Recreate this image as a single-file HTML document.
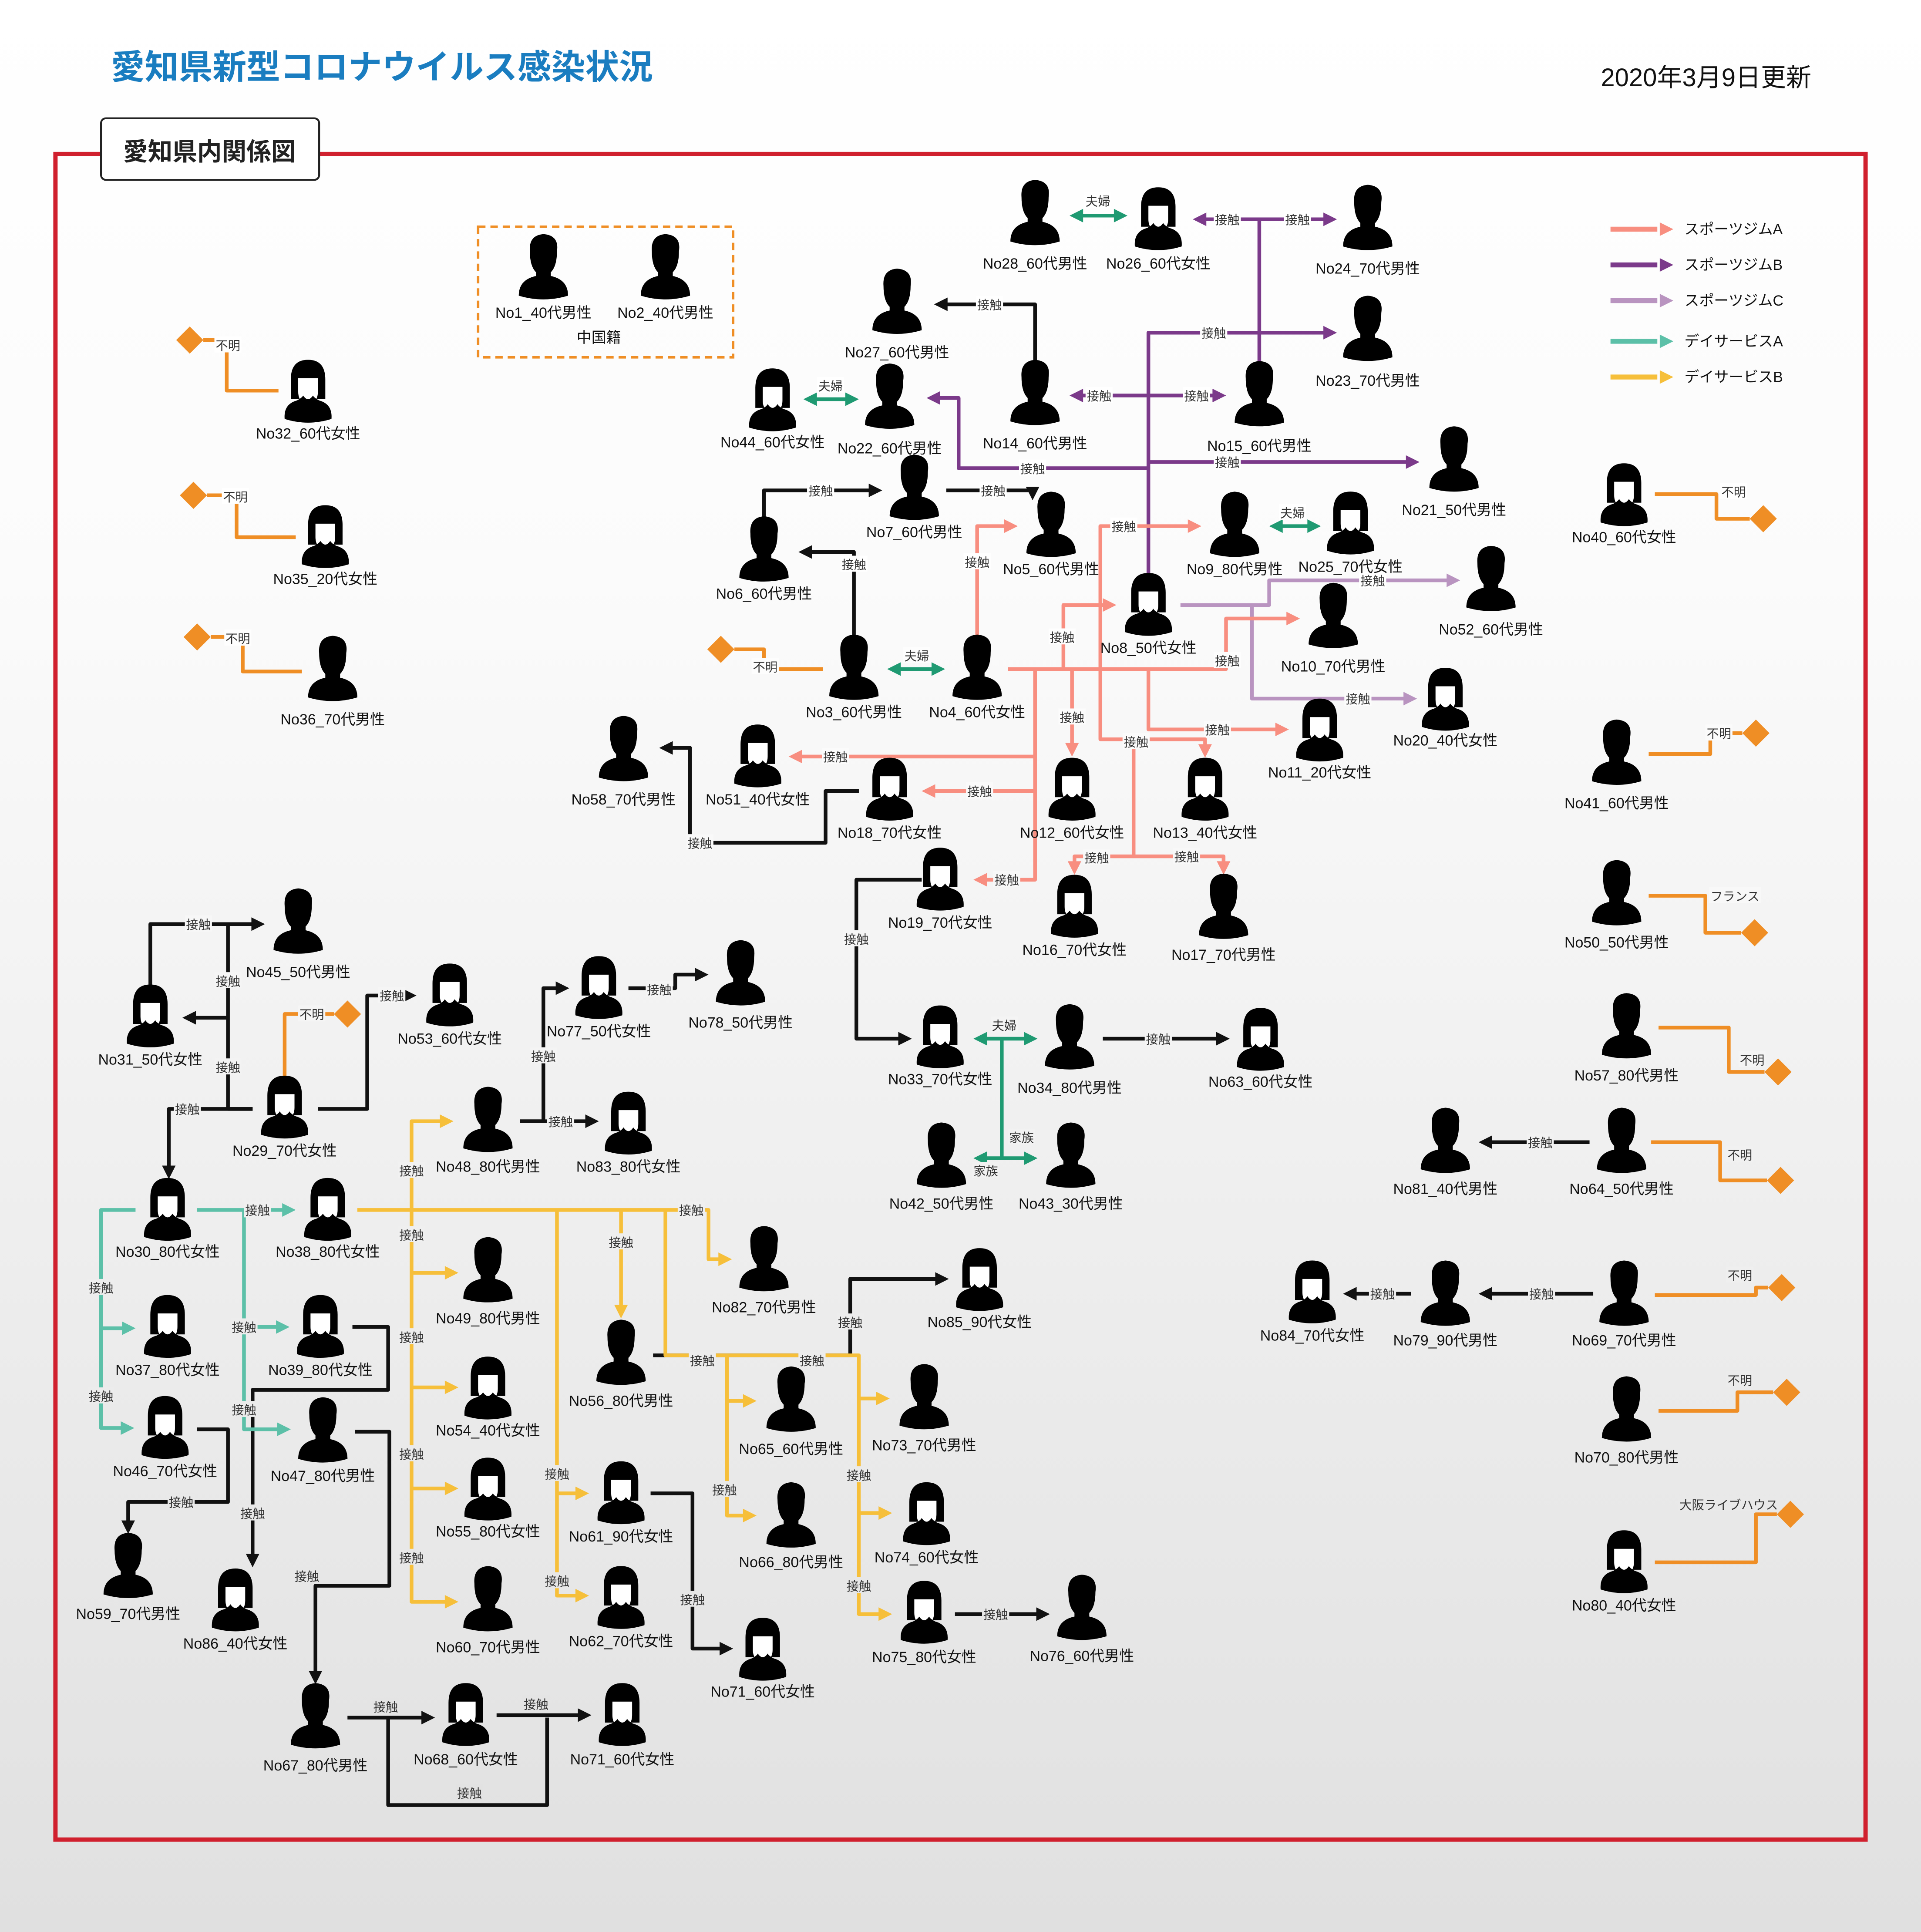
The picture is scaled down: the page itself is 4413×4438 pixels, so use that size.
<!DOCTYPE html>
<html><head><meta charset="utf-8"><style>
html,body{margin:0;padding:0;}
svg{display:block;}
text{font-family:"Liberation Sans","Noto Sans CJK JP",sans-serif;}
</style></head><body>
<svg id="chart" width="4413" height="4438" viewBox="0 0 1559 1568" preserveAspectRatio="none" xmlns="http://www.w3.org/2000/svg">
<defs>
<linearGradient id="bg" x1="0" y1="0" x2="0" y2="1"><stop offset="0" stop-color="#ffffff"/><stop offset="0.3" stop-color="#fbfbfb"/><stop offset="1" stop-color="#e0e0e0"/></linearGradient>
</defs>
<rect x="0" y="0" width="1559" height="1568" fill="url(#bg)"/>
<text x="90" y="64" font-size="27.5" font-weight="bold" fill="#1a7dc0">愛知県新型コロナウイルス感染状況</text>
<text x="1470" y="70" font-size="20.5" text-anchor="end" fill="#111">2020年3月9日更新</text>
<rect x="45" y="125" width="1469" height="1368" fill="none" stroke="#d0202e" stroke-width="3.5"/>
<rect x="82" y="96" width="177" height="50" rx="4" fill="#fff" stroke="#222" stroke-width="1.5"/>
<text x="170" y="130" font-size="20" font-weight="bold" text-anchor="middle" fill="#222">愛知県内関係図</text>
<rect x="388" y="184" width="207" height="106" fill="none" stroke="#ef8e25" stroke-width="2" stroke-dasharray="6,4"/>
<text x="486" y="278" font-size="12" text-anchor="middle" fill="#111">中国籍</text>
<g id="edges"></g><g id="elabels"></g><g id="nodes"></g><g id="legend"></g>
</svg>
<script>
const colors={A:'#f88e80',B:'#7b3a8a',C:'#b994c0',DA:'#5cc0a8',DB:'#f6bf3a',K:'#111111',F:'#1f9a72',U:'#ef8e25'};
const nodeNames=["No1_40代男性","No2_40代男性","No28_60代男性","No26_60代女性","No24_70代男性","No27_60代男性","No23_70代男性","No32_60代女性","No44_60代女性","No22_60代男性","No14_60代男性","No15_60代男性","No21_50代男性","No40_60代女性","No35_20代女性","No7_60代男性","No5_60代男性","No9_80代男性","No25_70代女性","No6_60代男性","No8_50代女性","No52_60代男性","No10_70代男性","No36_70代男性","No3_60代男性","No4_60代女性","No20_40代女性","No11_20代女性","No41_60代男性","No58_70代男性","No51_40代女性","No18_70代女性","No12_60代女性","No13_40代女性","No19_70代女性","No16_70代女性","No17_70代男性","No50_50代男性","No45_50代男性","No53_60代女性","No31_50代女性","No77_50代女性","No78_50代男性","No33_70代女性","No34_80代男性","No63_60代女性","No57_80代男性","No29_70代女性","No48_80代男性","No83_80代女性","No42_50代男性","No43_30代男性","No81_40代男性","No64_50代男性","No30_80代女性","No38_80代女性","No82_70代男性","No85_90代女性","No49_80代男性","No84_70代女性","No79_90代男性","No69_70代男性","No37_80代女性","No39_80代女性","No56_80代男性","No54_40代女性","No65_60代男性","No73_70代男性","No70_80代男性","No46_70代女性","No47_80代男性","No55_80代女性","No61_90代女性","No66_80代男性","No74_60代女性","No80_40代女性","No59_70代男性","No86_40代女性","No60_70代男性","No62_70代女性","No75_80代女性","No76_60代男性","No71_60代女性","No67_80代男性","No68_60代女性","No71_60代女性"];
const nodeX=[441,540,840,940,1110,728,1110,250,627,722,840,1022,1180,1318,264,742,853,1002,1096,620,932,1210,1082,270,693,793,1173,1071,1312,506,615,722,870,978,763,872,993,1312,242,365,122,486,601,763,868,1023,1320,231,396,510,764,869,1173,1316,136,266,620,795,396,1065,1173,1318,136,260,504,396,642,750,1320,134,262,396,504,642,752,1318,104,191,396,504,750,878,619,256,378,505];
const nodeY=[218,218,174,178,178,246,268,318,325,323,320,321,374,402,436,397,427,427,425,447,491,471,501,544,543,543,568,593,612,609,614,641,641,641,714,736,737,726,749,808,825,802,791,842,843,844,834,899,910,912,939,939,927,927,982,982,1023,1039,1032,1049,1051,1051,1077,1077,1099,1127,1137,1135,1145,1159,1162,1209,1212,1231,1229,1268,1272,1299,1299,1297,1309,1306,1339,1394,1392,1392];
const nodeLabelDy=[35,35,39,35,39,39,40,33,33,40,39,40,39,33,33,34,34,34,34,34,34,39,39,39,34,34,32,33,39,39,34,34,34,34,34,34,37,38,39,34,34,34,38,33,39,33,38,34,36,34,37,37,37,37,33,33,37,33,37,34,36,36,34,34,37,33,38,37,37,34,35,33,34,36,34,34,37,34,37,34,35,37,33,38,35,35];
const nodeFemale=["No26","No32","No44","No40","No35","No25","No8","No20","No11","No51","No18","No12","No13","No19","No16","No53","No31","No77","No33","No63","No29","No83","No30","No38","No85","No84","No37","No39","No54","No46","No55","No61","No74","No80","No86","No62","No75","No71","No68"];
const edges=[
['K',[[840,297],[840,247],[758,247]],1,0],
['K',[[620,422],[620,398],[716,398]],1,0],
['K',[[768,398],[838,398],[838,406]],1,0],
['K',[[693,520],[693,448],[648,448]],1,0],
['K',[[697,642],[670,642],[670,684],[560,684],[560,607],[535,607]],1,0],
['K',[[748,714],[695,714],[695,843],[740,843]],1,0],
['K',[[895,843],[998,843]],1,0],
['K',[[1290,927],[1200,927]],1,0],
['K',[[1145,1050],[1090,1050]],1,0],
['K',[[1293,1050],[1200,1050]],1,0],
['K',[[122,805],[122,750],[215,750]],1,0],
['K',[[205,900],[185,900],[185,750]],0,0],
['K',[[185,826],[148,826]],1,0],
['K',[[258,900],[298,900],[298,808],[338,808]],1,0],
['K',[[205,900],[137,900],[137,957]],1,0],
['K',[[510,802],[548,802],[548,791],[575,791]],1,0],
['K',[[422,910],[441,910],[441,802],[462,802]],1,0],
['K',[[422,910],[486,910]],1,0],
['K',[[530,1100],[690,1100],[690,1038],[770,1038]],1,0],
['K',[[528,1212],[562,1212],[562,1338],[595,1338]],1,0],
['K',[[775,1310],[852,1310]],1,0],
['K',[[160,1160],[185,1160],[185,1219],[104,1219],[104,1245]],1,0],
['K',[[286,1077],[315,1077],[315,1128],[205,1128],[205,1272]],1,0],
['K',[[288,1162],[316,1162],[316,1287],[256,1287],[256,1367]],1,0],
['K',[[282,1394],[353,1394]],1,0],
['K',[[315,1394],[315,1465],[444,1465],[444,1394]],0,0],
['K',[[403,1392],[480,1392]],1,0],
['B',[[968,178],[1085,178]],1,1],
['B',[[1022,178],[1022,297]],0,0],
['B',[[932,470],[932,270],[1085,270]],1,0],
['B',[[868,321],[995,321]],1,1],
['B',[[752,323],[778,323],[778,380],[932,380]],0,1],
['B',[[932,375],[1152,375]],1,0],
['C',[[958,491],[1030,491],[1030,471],[1185,471]],1,0],
['C',[[1016,491],[1016,567],[1150,567]],1,0],
['A',[[818,543],[995,543],[995,502],[1055,502]],1,0],
['A',[[793,520],[793,427],[826,427]],1,0],
['A',[[863,543],[863,491],[906,491]],1,0],
['A',[[893,543],[893,427],[975,427]],1,0],
['A',[[932,543],[932,592],[1046,592]],1,0],
['A',[[893,543],[893,600],[978,600],[978,615]],1,0],
['A',[[870,543],[870,614]],1,0],
['A',[[840,543],[840,642],[748,642]],1,0],
['A',[[840,614],[640,614]],1,0],
['A',[[840,642],[840,714],[790,714]],1,0],
['A',[[920,600],[920,695],[872,695],[872,710]],1,0],
['A',[[920,695],[993,695],[993,710]],1,0],
['F',[[868,175],[915,175]],1,1],
['F',[[652,324],[697,324]],1,1],
['F',[[1030,427],[1072,427]],1,1],
['F',[[720,543],[767,543]],1,1],
['F',[[790,843],[842,843]],1,1],
['F',[[813,843],[813,940],[842,940]],1,0],
['F',[[813,940],[790,940]],1,0],
['DA',[[160,982],[240,982]],1,0],
['DA',[[110,982],[82,982],[82,1159],[109,1159]],1,0],
['DA',[[82,1078],[110,1078]],1,0],
['DA',[[198,982],[198,1160],[236,1160]],1,0],
['DA',[[198,1077],[235,1077]],1,0],
['DB',[[290,982],[575,982],[575,1022],[594,1022]],1,0],
['DB',[[334,982],[334,910],[368,910]],1,0],
['DB',[[334,982],[334,1300],[372,1300]],1,0],
['DB',[[334,1033],[372,1033]],1,0],
['DB',[[334,1126],[372,1126]],1,0],
['DB',[[334,1208],[372,1208]],1,0],
['DB',[[452,982],[452,1295],[478,1295]],1,0],
['DB',[[452,1212],[478,1212]],1,0],
['DB',[[504,982],[504,1070]],1,0],
['DB',[[540,982],[540,1100],[697,1100],[697,1310],[724,1310]],1,0],
['DB',[[590,1100],[590,1230],[614,1230]],1,0],
['DB',[[590,1137],[614,1137]],1,0],
['DB',[[697,1135],[722,1135]],1,0],
['DB',[[697,1228],[724,1228]],1,0],
['U',[[165,276],[184,276],[184,317],[226,317]],0,0],
['U',[[168,402],[192,402],[192,436],[240,436]],0,0],
['U',[[171,517],[197,517],[197,545],[245,545]],0,0],
['U',[[596,527],[620,527],[620,543],[668,543]],0,0],
['U',[[1343,401],[1393,401],[1393,421],[1420,421]],0,0],
['U',[[1338,612],[1388,612],[1388,595],[1414,595]],0,0],
['U',[[1338,727],[1384,727],[1384,757],[1413,757]],0,0],
['U',[[1346,834],[1403,834],[1403,870],[1432,870]],0,0],
['U',[[1340,927],[1396,927],[1396,958],[1434,958]],0,0],
['U',[[1343,1051],[1425,1051],[1425,1045],[1435,1045]],0,0],
['U',[[1346,1145],[1410,1145],[1410,1130],[1439,1130]],0,0],
['U',[[1343,1268],[1425,1268],[1425,1229],[1442,1229]],0,0],
['U',[[231,877],[231,823],[271,823]],0,0]
];
const diamonds=[[154,276],[157,402],[160,517],[585,527],[1431,421],[1425,595],[1424,757],[1443,870],[1445,958],[1446,1045],[1450,1130],[1453,1229],[282,823]];
const edgeLabels=[
['接触',803,247],['接触',666,398],['接触',806,398],['接触',693,458],['接触',568,684],['接触',695,762],['接触',940,843],['接触',1250,927],['接触',1122,1050],['接触',1251,1050],['接触',161,750],['接触',185,796],['接触',185,866],['接触',318,808],['接触',152,900],['接触',535,803],['接触',441,857],['接触',455,910],['接触',690,1073],['接触',562,1298],['接触',808,1310],['接触',147,1219],['接触',205,1228],['接触',249,1279],['接触',313,1385],['接触',381,1455],['接触',435,1383],
['接触',996,178],['接触',1053,178],['接触',985,270],['接触',892,321],['接触',971,321],['接触',838,380],['接触',996,375],['接触',1114,471],['接触',1102,567],
['接触',996,536],['接触',793,456],['接触',862,517],['接触',912,427],['接触',988,592],['接触',922,602],['接触',870,582],['接触',795,642],['接触',678,614],['接触',817,714],['接触',890,696],['接触',963,695],
['夫婦',891,163],['夫婦',674,313],['夫婦',1049,416],['夫婦',744,532],['夫婦',815,832],['家族',829,923],['家族',800,950],
['接触',209,982],['接触',82,1045],['接触',82,1133],['接触',198,1077],['接触',198,1144],
['接触',561,982],['接触',334,950],['接触',334,1002],['接触',334,1085],['接触',334,1180],['接触',334,1264],['接触',452,1196],['接触',452,1283],['接触',504,1008],['接触',570,1104],['接触',659,1104],['接触',588,1209],['接触',697,1197],['接触',697,1287],
['不明',185,280],['不明',191,403],['不明',193,518],['不明',621,541],['不明',1407,399],['不明',1395,595],['フランス',1408,727],['不明',1422,860],['不明',1412,937],['不明',1412,1035],['不明',1412,1120],['大阪ライブハウス',1403,1221],['不明',253,823]
];
const legendNames=['スポーツジムA','スポーツジムB','スポーツジムC','デイサービスA','デイサービスB'];
const legendKeys=['A','B','C','DA','DB'];
const legendY=[186,215,244,277,306];

const NS='http://www.w3.org/2000/svg';
function mk(tag,attrs,parent){const e=document.createElementNS(NS,tag);for(const k in attrs)e.setAttribute(k,attrs[k]);parent.appendChild(e);return e;}
function bgCol(y){const g=Math.round(255-Math.max(0,(y-470))/1098*32);return 'rgb('+g+','+g+','+g+')';}
function arrowHead(p,q,col,parent){
  const dx=q[0]-p[0],dy=q[1]-p[1],L=Math.hypot(dx,dy)||1,ux=dx/L,uy=dy/L,s=11,w=5.5;
  const bx=q[0]-ux*s,by=q[1]-uy*s;
  const a=mk('polygon',{points:q[0]+','+q[1]+' '+(bx-uy*w)+','+(by+ux*w)+' '+(bx+uy*w)+','+(by-ux*w),fill:col},parent);
  
  
}
function shorten(p,q){const dx=q[0]-p[0],dy=q[1]-p[1],L=Math.hypot(dx,dy)||1;return [q[0]-dx/L*8,q[1]-dy/L*8];}
const gE=document.getElementById('edges');
edges.forEach(ed=>{
  const col=colors[ed[0]];const pts=ed[1].map(p=>p.slice());
  const n=pts.length;
  const orig=ed[1];
  if(ed[2])pts[n-1]=shorten(orig[n-2],orig[n-1]);
  if(ed[3])pts[0]=shorten(orig[1],orig[0]);
  const pl=mk('polyline',{points:pts.map(p=>p.join(',')).join(' '),fill:'none',stroke:col,'stroke-width':3,'stroke-linejoin':'round'},gE);
  
  
  if(ed[2])arrowHead(orig[n-2],orig[n-1],col,gE);
  if(ed[3])arrowHead(orig[1],orig[0],col,gE);
});
diamonds.forEach(d=>{
  const r=11;
  const dm=mk('polygon',{points:d[0]+','+(d[1]-r)+' '+(d[0]+r)+','+d[1]+' '+d[0]+','+(d[1]+r)+' '+(d[0]-r)+','+d[1],fill:colors.U},gE);
  
  
});
const gL=document.getElementById('elabels');
edgeLabels.forEach(l=>{
  const w=l[0].length*10+2;
  const r=mk('rect',{x:l[1]-w/2,y:l[2]-7,width:w,height:13,fill:bgCol(l[2])},gL);
  
  
  const t=mk('text',{x:l[1],y:l[2]+4,'font-size':10,'text-anchor':'middle',fill:'#333'},gL);
  t.textContent=l[0];
  
  
});
const gN=document.getElementById('nodes');
nodeNames.forEach((nm,i)=>{
  const x=nodeX[i],y=nodeY[i];const fem=nodeFemale.indexOf(nm.split('_')[0])>=0;
  const g=mk('g',{transform:'translate('+x+','+y+')'},gN);
  
  
  if(fem){
    mk('path',{d:'M-14 6 L-14 -10 Q-14 -26 0 -26 Q14 -26 14 -10 L14 6 Z',fill:'#000'},g);
    mk('path',{d:'M-8 -11 L8 -11 L8 0 Q8 6 4 9 L-4 9 Q-8 6 -8 0 Z',fill:'#fff'},g);
    mk('path',{d:'M-19 22 Q-20 10 -9 7 Q-5 5 -4 3 Q0 9 4 3 Q5 5 9 7 Q20 10 19 22 Q0 28 -19 22 Z',fill:'#000'},g);
  }else{
    mk('path',{d:'M-11 -14 Q-12 -27 0 -28 Q13 -27 11 -14 Q11 -2 6 3 L6 6 Q20 9 20 22 Q0 28 -20 22 Q-20 9 -6 6 L-6 3 Q-11 -2 -11 -14 Z',fill:'#000'},g);
  }
  const t=mk('text',{x:x,y:y+nodeLabelDy[i]+5,'font-size':12,'text-anchor':'middle',fill:'#111'},gN);
  t.textContent=nm;
  
  
});
const gG=document.getElementById('legend');
legendNames.forEach((nm,i)=>{
  const y=legendY[i],col=colors[legendKeys[i]];
  const l=mk('line',{x1:1307,y1:y,x2:1345,y2:y,stroke:col,'stroke-width':4},gG);
  
  
  arrowHead([1307,y],[1358,y],col,gG);
  const t=mk('text',{x:1367,y:y+4,'font-size':12,fill:'#111'},gG);
  t.textContent=nm;
  
  
});
</script>
</body></html>
